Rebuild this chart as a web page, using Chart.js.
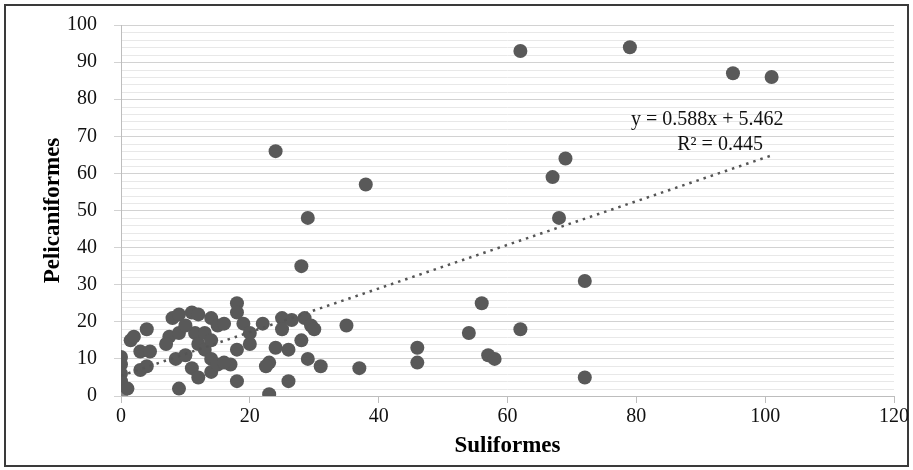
<!DOCTYPE html>
<html>
<head>
<meta charset="utf-8">
<script src="https://cdn.jsdelivr.net/npm/chart.js@4/dist/chart.umd.min.js"></script>
<style>
  html, body { margin: 0; padding: 0; background: #fff; }
  #wrap { position: relative; width: 913px; height: 470px; }
</style>
</head>
<body>
<div id="wrap"><canvas id="chart" width="913" height="470"></canvas></div>
<script>
// Suliformes (x) vs Pelecaniformes (y)
const suliformes = [
  0, 0, 0, 0, 0, 1, 1.5, 2, 4, 3, 4.5, 3, 4,
  8, 9, 11, 12, 14, 15, 7.5, 9, 11.5, 12, 13, 8.5, 10, 14, 11, 12, 14, 9, 15,
  7, 10, 13, 14, 16,
  18, 18, 19, 20, 20, 18, 22, 25, 25, 26.5, 28.5, 29.5, 30, 35, 28, 26, 24,
  23, 22.5, 29, 31, 37, 17, 16, 18, 26, 23,
  24, 38, 29, 28, 62, 79, 95, 101, 69, 67, 68, 72, 56, 54, 62, 46, 46, 57, 58, 72
];
const pelecaniformes = [
  0, 10.5, 8.5, 6, 4, 2, 15, 16, 18, 12, 12, 7, 8,
  21, 22, 22.5, 22, 21, 19, 16, 17, 17, 14, 12.5, 10, 11, 10, 7.5, 5, 6.5, 2, 8.5,
  14, 19, 17, 15, 19.5,
  25, 22.5, 19.5, 17, 14, 12.5, 19.5, 21, 18, 20.5, 21, 19, 18, 19, 15, 12.5, 13,
  9, 8, 10, 8, 7.5, 8.5, 9, 4, 4, 0.5,
  66, 57, 48, 35, 93, 94, 87, 86, 64, 59, 48, 31, 25, 17, 18, 13, 9, 11, 10, 5
];
const xTicks = [0, 120, 20];   // min, max, step
const yTicks = [0, 100, 10];
const trendSlope = 0.588;
const trendIntercept = 5.462;
const trendLabels = ['y = 0.588x + 5.462', 'R\u00b2 = 0.445'];

const points = suliformes.map((x, i) => ({x: x, y: pelecaniformes[i]}));
const xMax = Math.max(...suliformes);
const trend = [
  {x: 0, y: trendIntercept},
  {x: xMax, y: trendSlope * xMax + trendIntercept},
];

const serif = '"Liberation Serif", "Times New Roman", serif';

const framePlugin = {
  id: 'frame',
  beforeDraw(chart) {
    const ctx = chart.ctx;
    const y = chart.scales.y;
    const area = chart.chartArea;
    ctx.save();
    ctx.fillStyle = '#fff';
    ctx.fillRect(0, 0, chart.width, chart.height);
    ctx.strokeStyle = '#3a3a3a';
    ctx.lineWidth = 2;
    ctx.strokeRect(5, 5, 903, 461);
    // minor gridlines every 2 units
    ctx.strokeStyle = '#e8e8e8';
    ctx.lineWidth = 1;
    for (let v = yTicks[0]; v <= yTicks[1]; v += 2) {
      if (v % yTicks[2] === 0) continue;
      const py = Math.round(y.getPixelForValue(v)) + 0.5;
      ctx.beginPath();
      ctx.moveTo(area.left, py);
      ctx.lineTo(area.right, py);
      ctx.stroke();
    }
    ctx.restore();
  },
  afterDatasetsDraw(chart) {
    const ctx = chart.ctx;
    const x = chart.scales.x;
    const y = chart.scales.y;
    ctx.save();
    ctx.fillStyle = '#111';
    ctx.font = '20px ' + serif;
    ctx.textAlign = 'center';
    ctx.textBaseline = 'middle';
    ctx.fillText(trendLabels[0], x.getPixelForValue(91), y.getPixelForValue(74.5));
    ctx.fillText(trendLabels[1], x.getPixelForValue(93), y.getPixelForValue(67.7));
    ctx.restore();
  }
};

new Chart(document.getElementById('chart').getContext('2d'), {
  type: 'scatter',
  data: {
    datasets: [
      {
        label: 'Trend',
        type: 'line',
        data: trend,
        borderColor: '#555',
        borderWidth: 2.5,
        borderDash: [2.5, 5],
        pointRadius: 0,
        fill: false,
      },
      {
        label: 'Pelecaniformes',
        data: points,
        pointRadius: 7,
        pointBorderWidth: 0,
        pointBackgroundColor: (c) => {
          const p = c.raw;
          return (p && p.x === 0 && p.y === 0) ? '#8a8a8a' : '#595959';
        },
      },
    ],
  },
  options: {
    responsive: false,
    animation: false,
    layout: {padding: {left: 0, right: 19, top: 25, bottom: 0}},
    plugins: {
      legend: {display: false},
      tooltip: {enabled: false},
    },
    scales: {
      x: {
        type: 'linear',
        min: xTicks[0],
        max: xTicks[1],
        afterFit: (s) => { s.height = 74; },
        ticks: {stepSize: xTicks[2], padding: 2, color: '#111', font: {family: serif, size: 20}},
        grid: {drawOnChartArea: false, drawTicks: true, tickLength: 7, color: '#bdbdbd'},
        border: {display: true, color: '#bdbdbd'},
        title: {
          display: true,
          text: 'Suliformes',
          color: '#000',
          font: {family: serif, size: 23, weight: 'bold'},
          padding: {top: 0, bottom: 10},
        },
      },
      y: {
        min: yTicks[0],
        max: yTicks[1],
        afterFit: (s) => { s.width = 121; s.paddingTop = 0; s.paddingBottom = 0; },
        ticks: {stepSize: yTicks[2], padding: 17, color: '#111', font: {family: serif, size: 20}},
        grid: {drawTicks: true, tickLength: 7, color: '#d2d2d2'},
        border: {display: true, color: '#bdbdbd'},
        title: {
          display: true,
          text: 'Pelicaniformes',
          color: '#000',
          font: {family: serif, size: 23, weight: 'bold'},
          padding: {top: 39, bottom: 0},
        },
      },
    },
  },
  plugins: [framePlugin],
});
</script>
</body>
</html>
